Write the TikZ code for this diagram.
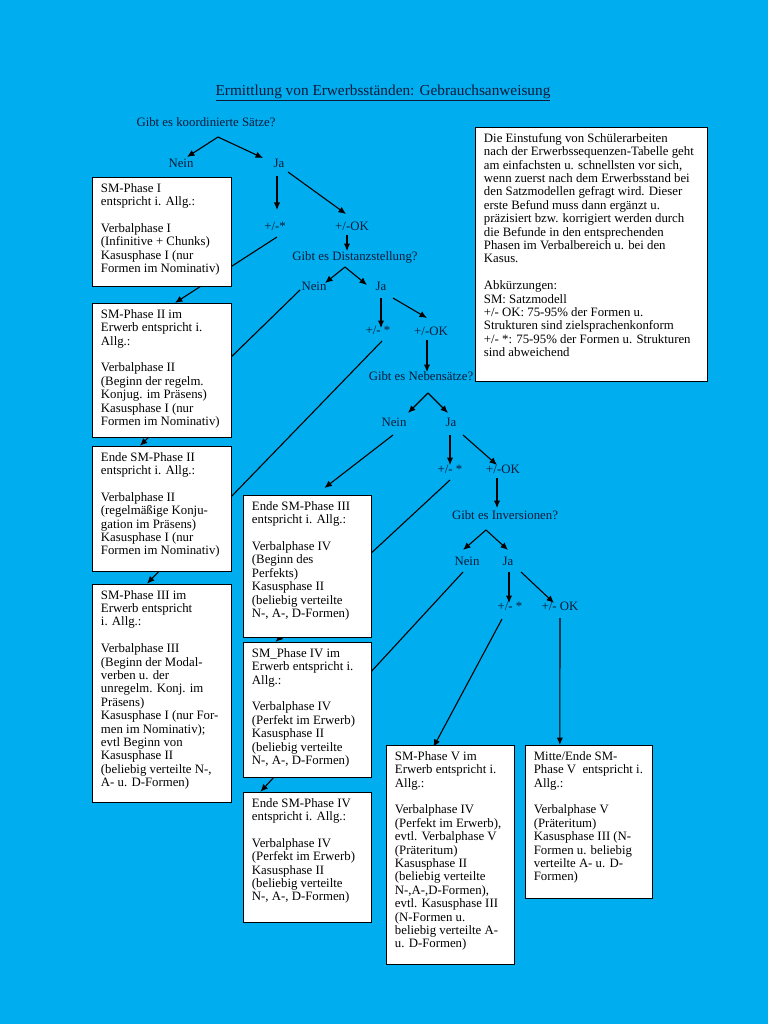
\documentclass[tikz,border=0pt]{standalone}
\usepackage{fontspec}
\setmainfont{Liberation Serif}
\usetikzlibrary{arrows.meta,calc,positioning}
\definecolor{sky}{HTML}{00AEEF}
\definecolor{ink}{HTML}{0A1A3A}
\newcommand{\bodyfont}{\fontsize{12.8}{13.4}\selectfont}
% box body: width, height (px), text
\newcommand{\panelbody}[3]{\parbox[t][\dimexpr#2pt-12pt\relax][t]{\dimexpr#1pt-18pt\relax}{\raggedright\strut#3}}
\pgfdeclarelayer{canvas}
\pgfdeclarelayer{wires}
\pgfsetlayers{canvas,wires,main}
\tikzset{panel/.style={draw=black,fill=white,line width=.9pt,inner xsep=8.5pt,inner ysep=5.5pt,anchor=north west,font=\bodyfont},
answer/.style={font=\bodyfont,text=ink,inner sep=1pt,text height=9pt,text depth=3pt},
wire/.style={draw=black,line width=1.1pt},
flow/.style={wire,-{Latex[length=7.5pt,width=6.5pt]}}}

\begin{document}
\begin{tikzpicture}[x=1pt,y=-1pt]
\begin{pgfonlayer}{canvas}
\fill[sky] (0,0) rectangle (768,1024);
\end{pgfonlayer}
\node[font=\fontsize{15.3}{17}\selectfont,text=ink] (title) at (383,93) {\underline{Ermittlung von Erwerbsständen: Gebrauchsanweisung}};

% questions and answers
\node[answer] (q1) at (206,124) {Gibt es koordinierte Sätze?};
\node[answer] (nein1) at (181,165) {Nein};
\node[answer] (ja1) at (279,165) {Ja};
\node[answer] (ps1) at (275,227) {+/-*};
\node[answer] (ok1) at (352,227) {+/-OK};
\node[answer] (q2) at (355,257) {Gibt es Distanzstellung?};
\node[answer] (nein2) at (314,287) {Nein};
\node[answer] (ja2) at (381,287) {Ja};
\node[answer] (ps2) at (378,331) {+/- *};
\node[answer] (ok2) at (431,332) {+/-OK};
\node[answer] (q3) at (421,377) {Gibt es Nebensätze?};
\node[answer] (nein3) at (394,423) {Nein};
\node[answer] (ja3) at (451,423) {Ja};
\node[answer] (ps3) at (450,470) {+/- *};
\node[answer] (ok3) at (503,470) {+/-OK};
\node[answer] (q4) at (505,516) {Gibt es Inversionen?};
\node[answer] (nein4) at (467,562) {Nein};
\node[answer] (ja4) at (508,562) {Ja};
\node[answer] (ps4) at (510,607) {+/- *};
\node[answer] (ok4) at (560,607) {+/- OK};

% boxes
\node[panel] (info) at (475,127) {\panelbody{233}{255}{Die Einstufung von Schülerarbeiten\\nach der Erwerbssequenzen-Tabelle geht\\am einfachsten u. schnellsten vor sich,\\wenn zuerst nach dem Erwerbsstand bei\\den Satzmodellen gefragt wird. Dieser\\erste Befund muss dann ergänzt u.\\präzisiert bzw. korrigiert werden durch\\die Befunde in den entsprechenden\\Phasen im Verbalbereich u. bei den\\Kasus.\\[\baselineskip]Abkürzungen:\\SM: Satzmodell\\+/- OK: 75-95\% der Formen u.\\Strukturen sind zielsprachenkonform\\+/- *: 75-95\% der Formen u. Strukturen\\sind abweichend}};
\node[panel] (smI) at (92,177) {\panelbody{140}{110}{SM-Phase I\\entspricht i. Allg.:\\[\baselineskip]Verbalphase I\\(Infinitive + Chunks)\\Kasusphase I (nur\\Formen im Nominativ)}};
\node[panel,below=16pt of smI] (smII) {\panelbody{140}{135}{SM-Phase II im\\Erwerb entspricht i.\\Allg.:\\[\baselineskip]Verbalphase II\\(Beginn der regelm.\\Konjug. im Präsens)\\Kasusphase I (nur\\Formen im Nominativ)}};
\node[panel,below=8pt of smII] (smIIe) {\panelbody{140}{126}{Ende SM-Phase II\\entspricht i. Allg.:\\[\baselineskip]Verbalphase II\\(regelmäßige Konju-\\gation im Präsens)\\Kasusphase I (nur\\Formen im Nominativ)}};
\node[panel,below=12pt of smIIe] (smIII) {\panelbody{140}{219}{SM-Phase III im\\Erwerb entspricht\\i. Allg.:\\[\baselineskip]Verbalphase III\\(Beginn der Modal-\\verben u. der\\unregelm. Konj. im\\Präsens)\\Kasusphase I (nur For-\\men im Nominativ);\\evtl Beginn von\\Kasusphase II\\(beliebig verteilte N-,\\A- u. D-Formen)}};
\node[panel] (smIIIe) at (243,495) {\panelbody{129}{143}{Ende SM-Phase III\\entspricht i. Allg.:\\[\baselineskip]Verbalphase IV\\(Beginn des\\Perfekts)\\Kasusphase II\\(beliebig verteilte\\N-, A-, D-Formen)}};
\node[panel,below=4pt of smIIIe] (smIV) {\panelbody{129}{136}{SM\_Phase IV im\\Erwerb entspricht i.\\Allg.:\\[\baselineskip]Verbalphase IV\\(Perfekt im Erwerb)\\Kasusphase II\\(beliebig verteilte\\N-, A-, D-Formen)}};
\node[panel,below=14pt of smIV] (smIVe) {\panelbody{129}{131}{Ende SM-Phase IV\\entspricht i. Allg.:\\[\baselineskip]Verbalphase IV\\(Perfekt im Erwerb)\\Kasusphase II\\(beliebig verteilte\\N-, A-, D-Formen)}};
\node[panel] (smV) at (386,745) {\panelbody{129}{220}{SM-Phase V im\\Erwerb entspricht i.\\Allg.:\\[\baselineskip]Verbalphase IV\\(Perfekt im Erwerb),\\evtl. Verbalphase V\\(Präteritum)\\Kasusphase II\\(beliebig verteilte\\N-,A-,D-Formen),\\evtl. Kasusphase III\\(N-Formen u.\\beliebig verteilte A-\\u. D-Formen)}};
\node[panel,right=10pt of smV.north east,anchor=north west] (smVm) {\panelbody{128}{154}{Mitte/Ende SM-\\Phase V\ \ entspricht i.\\Allg.:\\[\baselineskip]Verbalphase V\\(Präteritum)\\Kasusphase III (N-\\Formen u. beliebig\\verteilte A- u. D-\\Formen)}};

% connectors
\begin{pgfonlayer}{wires}
\draw[flow] ($(q1)+(12,13)$) -- ($(nein1)+(6,-8)$);
\draw[flow] ($(q1)+(12,13)$) -- ($(ja1)+(-16,-7)$);
\draw[flow] ($(ja1)+(-2,11)$) -- ($(ps1)+(2,-17)$);
\draw[flow] ($(ja1)+(9,7)$) -- ($(ok1)+(-6,-13)$);
\draw[flow] ($(ok1)+(-5,8)$) -- ($(q2)+(-8,-6)$);
\draw[flow] ($(ps1)+(2,10)$) -- ($(smII.north)+(13,0)$);
\draw[flow] ($(q2)+(-10,10)$) -- ($(nein2)+(11,-4)$);
\draw[flow] ($(q2)+(-10,10)$) -- ($(ja2)+(-14,-2)$);
\draw[flow] ($(ja2)+(0,11)$) -- ($(ps2)+(3,-3)$);
\draw[flow] ($(ja2)+(12,11)$) -- ($(ok2)+(-4,-14)$);
\draw[flow] ($(nein2)+(-14,3)$) -- ($(smIIe.north)+(-22,0)$);
\draw[flow] ($(ps2)+(4,10)$) -- ($(smIII.north)+(-15,0)$);
\draw[flow] ($(ok2)+(-4,8)$) -- ($(q3)+(6,-5)$);
\draw[flow] ($(q3)+(7,16)$) -- ($(nein3)+(14,-10)$);
\draw[flow] ($(q3)+(7,16)$) -- ($(ja3)+(-3,-10)$);
\draw[flow] ($(ja3)+(-1,12)$) -- ($(ps3)+(0,-5)$);
\draw[flow] ($(ja3)+(12,12)$) -- ($(ok3)+(-6,-5)$);
\draw[flow] ($(nein3)+(-1,12)$) -- ($(smIIIe.north)+(17,-7)$);
\draw[flow] ($(ps3)+(0,10)$) -- ($(smIV.north)+(-32,0)$);
\draw[flow] ($(ok3)+(-6,8)$) -- ($(q4)+(-8,-8)$);
\draw[flow] ($(q4)+(-19,14)$) -- ($(nein4)+(-4,-12)$);
\draw[flow] ($(q4)+(-19,14)$) -- ($(ja4)+(0,-12)$);
\draw[flow] ($(ja4)+(1,10)$) -- ($(ps4)+(-1,-4)$);
\draw[flow] ($(ja4)+(13,10)$) -- ($(ok4)+(-6,-4)$);
\draw[flow] ($(nein4)+(-4,10)$) -- ($(smIVe.north)+(-47,0)$);
\draw[flow] ($(ps4)+(-8,12)$) -- ($(smV.north)+(-17,2)$);
\draw[flow] ($(ok4)+(0,11)$) -- ($(smVm.north)+(-29,0)$);
\end{pgfonlayer}
\end{tikzpicture}
\end{document}
